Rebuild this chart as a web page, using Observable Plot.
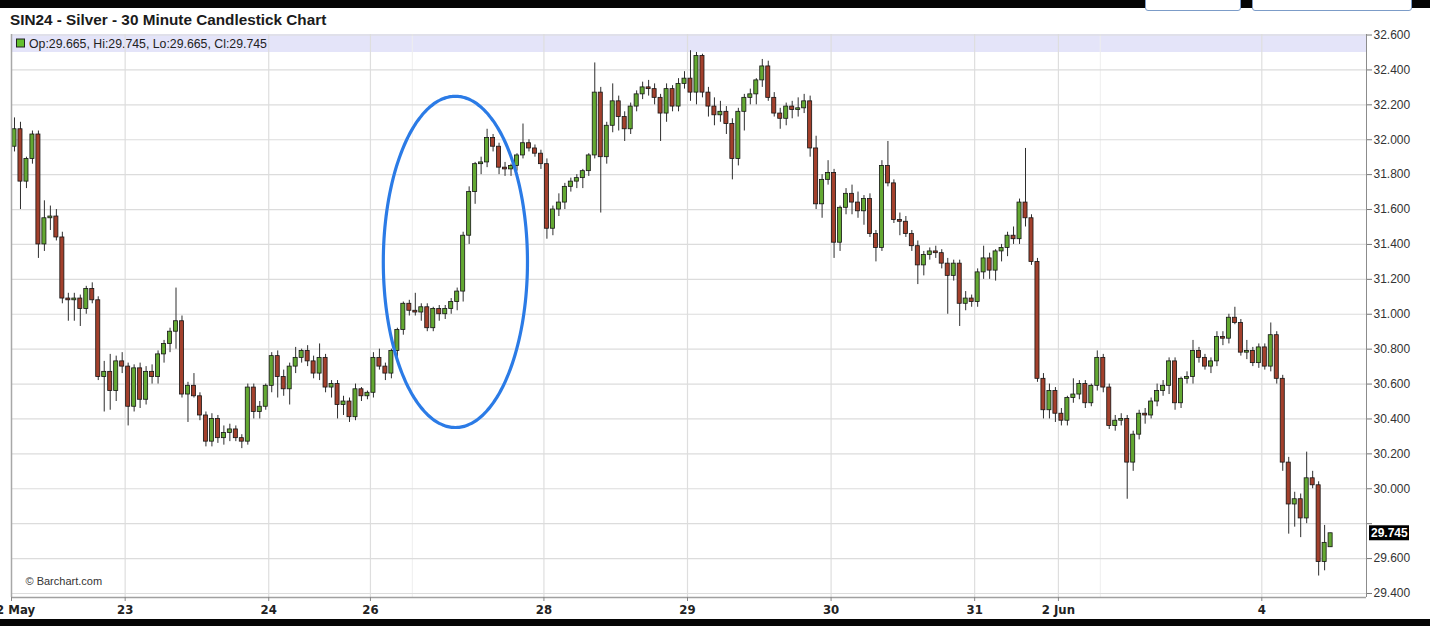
<!DOCTYPE html>
<html><head><meta charset="utf-8">
<script src="https://cdn.jsdelivr.net/npm/d3@7"></script>
<script src="https://cdn.jsdelivr.net/npm/@observablehq/plot@0.6"></script>
<style>
html,body{margin:0;padding:0;background:#fff;}
body{width:1430px;height:626px;overflow:hidden;position:relative;font-family:"Liberation Sans",Arial,sans-serif;}
#chart{position:absolute;left:0;top:0;}
.bar{position:absolute;left:0;width:1430px;background:#050505;z-index:2;}
#title{position:absolute;left:10px;top:11px;font:bold 15.3px "Liberation Sans",Arial,sans-serif;color:#1b1b1b;z-index:3;white-space:nowrap;}
.btn{position:absolute;top:-6px;height:15px;background:#fff;border:1px solid #7c9cc8;border-radius:3px;z-index:3;}
</style></head><body>
<div id="chart"></div>
<div class="bar" style="top:0;height:8px"></div>
<div class="bar" style="top:619px;height:7px"></div>
<div class="btn" style="left:1145px;width:94px"></div>
<div class="btn" style="left:1252px;width:158px"></div>
<div id="title">SIN24 - Silver - 30 Minute Candlestick Chart</div>
<script>
// ---- data (30-minute candles) ----
const opens = [31.96,32.06,31.76,31.89,32.03,31.40,31.55,31.56,31.44,31.09,31.08,31.09,31.03,31.145,31.08,30.64,30.67,30.56,30.73,
30.70,30.47,30.69,30.51,30.67,30.64,30.77,30.83,30.90,30.96,30.54,30.59,30.53,30.42,30.27,30.40,30.29,30.32,30.34,30.29,30.27,30.58,30.44,30.47,
30.59,30.76,30.64,30.57,30.70,30.75,30.79,30.73,30.66,30.75,30.58,30.60,30.48,30.50,30.41,30.57,30.53,
30.55,30.75,30.70,30.66,30.79,30.91,31.06,31.02,31.01,31.04,30.92,31.03,31.00,31.03,31.07,31.13,31.45,31.70,31.86,31.87,32.01,31.96,31.84,31.83,31.85,31.91,31.98,31.95,31.92,
31.86,31.49,31.60,31.64,31.73,31.76,31.78,31.82,31.91,32.27,31.90,32.08,32.22,32.13,32.06,32.19,32.26,32.30,32.29,32.24,32.15,32.29,32.19,32.32,
32.35,32.27,32.48,32.27,32.19,32.14,32.16,32.09,31.89,32.16,32.24,32.26,32.34,32.42,32.24,32.15,32.12,32.19,32.17,32.18,32.22,31.95,31.63,31.77,
31.81,31.41,31.61,31.69,31.64,31.59,31.66,31.46,31.38,31.85,31.75,31.54,31.53,31.46,31.39,31.28,31.34,31.36,31.35,31.29,31.22,31.29,31.06,31.09,
31.07,31.24,31.32,31.25,31.36,31.38,31.45,31.43,31.64,31.55,31.30,30.63,30.45,30.56,
30.43,30.39,30.52,30.54,30.60,30.49,30.59,30.75,30.58,30.36,30.39,30.40,30.15,30.31,30.43,30.42,30.50,30.56,30.59,30.73,30.49,30.63,30.64,30.79,30.75,30.70,30.73,30.87,30.86,30.98,30.95,30.78,30.79,30.72,
30.81,30.70,30.88,30.63,30.15,29.91,29.94,29.83,30.06,30.02,29.58,29.665];
const highs = [32.125,32.10,31.90,32.05,32.05,31.65,31.62,31.60,31.47,31.12,31.12,31.11,31.16,31.18,31.10,30.73,30.77,30.76,30.78,
30.72,30.71,30.72,30.70,30.71,30.79,30.85,30.92,31.15,30.99,30.61,30.66,30.55,30.44,30.43,30.42,30.36,30.37,30.36,30.31,30.60,30.60,30.50,30.60,
30.78,30.79,30.68,30.72,30.81,30.80,30.82,30.76,30.83,30.77,30.62,30.62,30.53,30.52,30.60,30.58,30.56,
30.78,30.80,30.72,30.80,30.92,31.07,31.08,31.12,31.06,31.06,31.04,31.05,31.05,31.09,31.15,31.47,31.73,31.87,31.90,32.06,32.03,31.98,31.87,31.86,31.92,32.09,32.00,31.97,31.94,
31.89,31.62,31.69,31.75,31.78,31.80,31.83,31.92,32.44,32.30,32.10,32.32,32.25,32.16,32.21,32.28,32.33,32.34,32.32,32.26,32.32,32.31,32.35,32.39,
32.51,32.50,32.49,32.30,32.24,32.22,32.19,32.12,32.18,32.26,32.29,32.35,32.46,32.45,32.27,32.18,32.21,32.22,32.24,32.26,32.25,32.02,31.80,31.88,
31.83,31.62,31.72,31.74,31.70,31.68,31.69,31.48,31.88,31.99,31.77,31.58,31.56,31.48,31.42,31.36,31.38,31.39,31.37,31.32,31.31,31.31,31.13,31.11,
31.26,31.39,31.35,31.37,31.40,31.47,31.50,31.66,31.95,31.57,31.32,30.66,30.60,30.58,
30.46,30.53,30.63,30.62,30.62,30.60,30.79,30.77,30.60,30.42,30.43,30.42,30.33,30.45,30.46,30.52,30.60,30.62,30.75,30.75,30.64,30.67,30.85,30.81,30.77,30.75,30.90,30.90,31.00,31.04,30.97,30.85,30.81,30.83,
30.83,30.95,30.90,30.65,30.18,29.98,29.97,30.21,30.10,30.04,29.79,29.745];
const lows = [31.93,31.60,31.72,31.86,31.32,31.36,31.48,31.42,31.06,30.96,30.96,30.93,31.00,31.06,30.62,30.44,30.45,30.50,30.66,
30.36,30.44,30.46,30.48,30.60,30.60,30.72,30.78,30.80,30.52,30.38,30.52,30.39,30.24,30.24,30.26,30.25,30.27,30.27,30.23,30.25,30.40,30.40,30.45,
30.55,30.52,30.53,30.48,30.66,30.72,30.70,30.63,30.62,30.55,30.52,30.40,30.42,30.38,30.39,30.50,30.51,
30.52,30.68,30.62,30.63,30.74,30.88,30.99,30.99,30.96,30.90,30.90,30.96,30.97,31.00,31.02,31.07,31.40,31.63,31.80,31.84,31.93,31.80,31.79,31.79,31.82,31.89,31.93,31.90,31.83,
31.43,31.45,31.56,31.60,31.70,31.72,31.72,31.79,31.89,31.58,31.86,32.04,32.05,31.99,32.03,32.16,32.23,32.25,32.20,31.99,32.10,32.16,32.16,32.29,
32.22,32.20,32.24,32.13,32.08,32.10,32.03,31.77,31.85,32.05,32.20,32.20,32.30,32.22,32.13,32.06,32.08,32.12,32.13,32.15,31.90,31.60,31.55,31.74,
31.32,31.36,31.57,31.57,31.55,31.51,31.44,31.30,31.36,31.73,31.52,31.45,31.44,31.36,31.17,31.22,31.31,31.32,31.26,31.00,31.19,30.93,31.02,31.04,
31.04,31.20,31.20,31.19,31.30,31.33,31.40,31.40,31.50,31.28,30.61,30.40,30.40,30.38,
30.36,30.36,30.49,30.51,30.46,30.47,30.56,30.55,30.34,30.33,30.36,29.94,30.10,30.28,30.37,30.40,30.47,30.53,30.54,30.45,30.46,30.60,30.60,30.72,30.68,30.66,30.70,30.82,30.83,30.94,30.76,30.74,30.70,30.69,
30.68,30.67,30.60,30.10,29.74,29.78,29.72,29.80,30.00,29.50,29.53,29.665];
const closes = [32.06,31.76,31.89,32.03,31.40,31.55,31.56,31.44,31.09,31.08,31.09,31.03,31.145,31.08,30.64,30.67,30.56,30.73,30.70,
30.47,30.69,30.51,30.67,30.64,30.77,30.83,30.90,30.96,30.54,30.59,30.53,30.42,30.27,30.40,30.29,30.32,30.34,30.29,30.27,30.58,30.44,30.47,30.59,
30.76,30.64,30.57,30.70,30.75,30.79,30.73,30.66,30.75,30.58,30.60,30.48,30.50,30.41,30.57,30.53,30.55,
30.75,30.70,30.66,30.79,30.91,31.06,31.02,31.01,31.04,30.92,31.03,31.00,31.03,31.07,31.13,31.45,31.70,31.86,31.87,32.01,31.96,31.84,31.83,31.85,31.91,31.98,31.95,31.92,31.86,
31.49,31.60,31.64,31.73,31.76,31.78,31.82,31.91,32.27,31.90,32.08,32.22,32.13,32.06,32.19,32.26,32.30,32.29,32.24,32.15,32.29,32.19,32.32,32.35,
32.27,32.48,32.27,32.19,32.14,32.16,32.09,31.89,32.16,32.24,32.26,32.34,32.42,32.24,32.15,32.12,32.19,32.17,32.18,32.22,31.95,31.63,31.77,31.81,
31.41,31.61,31.69,31.64,31.59,31.66,31.46,31.38,31.85,31.75,31.54,31.53,31.46,31.39,31.28,31.34,31.36,31.35,31.29,31.22,31.29,31.06,31.09,31.07,
31.24,31.32,31.25,31.36,31.38,31.45,31.43,31.64,31.55,31.30,30.63,30.45,30.56,30.43,
30.39,30.52,30.54,30.60,30.49,30.59,30.75,30.58,30.36,30.39,30.40,30.15,30.31,30.43,30.42,30.50,30.56,30.59,30.73,30.49,30.63,30.64,30.79,30.75,30.70,30.73,30.87,30.86,30.98,30.95,30.78,30.79,30.72,30.81,
30.70,30.88,30.63,30.15,29.91,29.94,29.83,30.06,30.02,29.58,29.69,29.745];

// session boundaries on the bar-index axis, with their labels
const dayTickIndex = [0, 19, 43, 60, 89, 113, 137, 161, 175, 209];
const dayLabels = ["22 May", "23", "24", "26", "28", "29", "30", "31", "2 Jun", "4"];
const sessionBreakIndex = [67, 182];
const priceTicks = [29.4, 29.6, 29.8, 30.0, 30.2, 30.4, 30.6, 30.8, 31.0, 31.2, 31.4, 31.6, 31.8, 32.0, 32.2, 32.4, 32.6];
// annotation ellipse (data coordinates: bar index / price)
const ellipseCenter = {i: 74.2, price: 31.30};
const ellipseRadius = {i: 12.05, price: 0.949};

const candles = opens.map((o, i) => ({i, open: o, high: highs[i], low: lows[i], close: closes[i]}));
const lastBar = candles[candles.length - 1];
const labelOf = new Map(dayTickIndex.map((t, k) => [t, dayLabels[k]]));
const fmt3 = d3.format(".3f");
const ellipsePts = d3.range(0, 361, 2).map(a => ({
  i: ellipseCenter.i + ellipseRadius.i * Math.cos(a * Math.PI / 180),
  price: ellipseCenter.price + ellipseRadius.price * Math.sin(a * Math.PI / 180)
}));
const X0 = 0, X1 = 226.5, Y0 = 29.377, Y1 = 32.603;

const chart = Plot.plot({
  width: 1430, height: 626,
  marginLeft: 11, marginRight: 64, marginTop: 34, marginBottom: 29,
  x: {domain: [X0, X1], axis: null},
  y: {domain: [Y0, Y1], axis: null},
  style: {background: "transparent", fontFamily: "'Liberation Sans', Arial, sans-serif"},
  marks: [
    Plot.ruleX(sessionBreakIndex, {stroke: "#eeeeee", strokeWidth: 1}),
    Plot.ruleX(dayTickIndex.slice(1), {stroke: "#dedede", strokeWidth: 1.2}),
    Plot.ruleY(priceTicks, {stroke: "#dcdcdc", strokeWidth: 1.2}),
    Plot.ruleX(candles, {x: d => d.i + 0.5, y1: "low", y2: "high", stroke: "#2e2e2e", strokeWidth: 1}),
    Plot.rect(candles, {
      x1: d => d.i + 0.16, x2: d => d.i + 0.84, y1: "open", y2: "close",
      fill: d => d.close >= d.open ? "#63a832" : "#a3402c",
      stroke: "#151515", strokeWidth: 0.8
    }),
    Plot.line(ellipsePts, {x: "i", y: "price", stroke: "#2b7be6", strokeWidth: 3.2, curve: "catmull-rom"}),
    Plot.ruleX([X0], {stroke: "#a8a8a8", strokeWidth: 1.5}),
    Plot.ruleX([X1], {stroke: "#8c8c8c", strokeWidth: 1}),
    Plot.ruleY([Y0], {stroke: "#a0a0a0", strokeWidth: 1.5}),
    Plot.axisY(priceTicks, {
      anchor: "right", tickSize: 5, tickPadding: 2,
      tickFormat: d => Math.abs(d - lastBar.close) < 0.1 ? "" : fmt3(d),
      fontSize: 12, stroke: "#777", fill: "#333", label: null
    }),
    Plot.axisX(dayTickIndex, {
      anchor: "bottom", tickSize: 4, tickPadding: 3, tickFormat: d => labelOf.get(d),
      fontSize: 13, fontWeight: "bold", stroke: "#888", fill: "#222", label: null,
      fontFamily: "'Liberation Sans Narrow', 'DejaVu Sans Condensed', sans-serif"
    }),
    Plot.text(["© Barchart.com"], {frameAnchor: "bottom-left", dx: 14, dy: -13, fontSize: 11, fill: "#333", textAnchor: "start"})
  ]
});
document.getElementById("chart").appendChild(chart);

// header band with last candle values, and the last-price marker on the right axis
const sx = chart.scale("x"), sy = chart.scale("y");
const svgSel = d3.select(chart);
const pxLeft = sx.apply(X0), pxRight = sx.apply(X1), pxTop = sy.apply(Y1);
const band = svgSel.insert("g", "g");
band.append("rect").attr("x", pxLeft).attr("y", pxTop).attr("width", pxRight - pxLeft).attr("height", 18).attr("fill", "#e4e4f9");
band.append("rect").attr("x", pxLeft + 5.5).attr("y", pxTop + 5).attr("width", 8).attr("height", 8)
  .attr("fill", "#63c02e").attr("stroke", "#222").attr("stroke-width", 1);
band.append("text").attr("x", pxLeft + 18).attr("y", pxTop + 13.5).attr("font-size", 12.3).attr("fill", "#222")
  .attr("text-anchor", "start")
  .attr("font-family", "'Liberation Sans', Arial, sans-serif")
  .text(`Op:${fmt3(lastBar.open)}, Hi:${fmt3(lastBar.high)}, Lo:${fmt3(lastBar.low)}, Cl:${fmt3(lastBar.close)}`);
const ly = sy.apply(lastBar.close);
const tag = svgSel.append("g");
tag.append("rect").attr("x", pxRight + 3).attr("y", ly - 7.5).attr("width", 40).attr("height", 15).attr("fill", "#000");
tag.append("text").attr("x", pxRight + 5).attr("y", ly + 4.5).attr("font-size", 12).attr("font-weight", "bold").attr("fill", "#fff")
  .attr("text-anchor", "start")
  .attr("font-family", "'Liberation Sans', Arial, sans-serif").text(fmt3(lastBar.close));
</script>
</body></html>
